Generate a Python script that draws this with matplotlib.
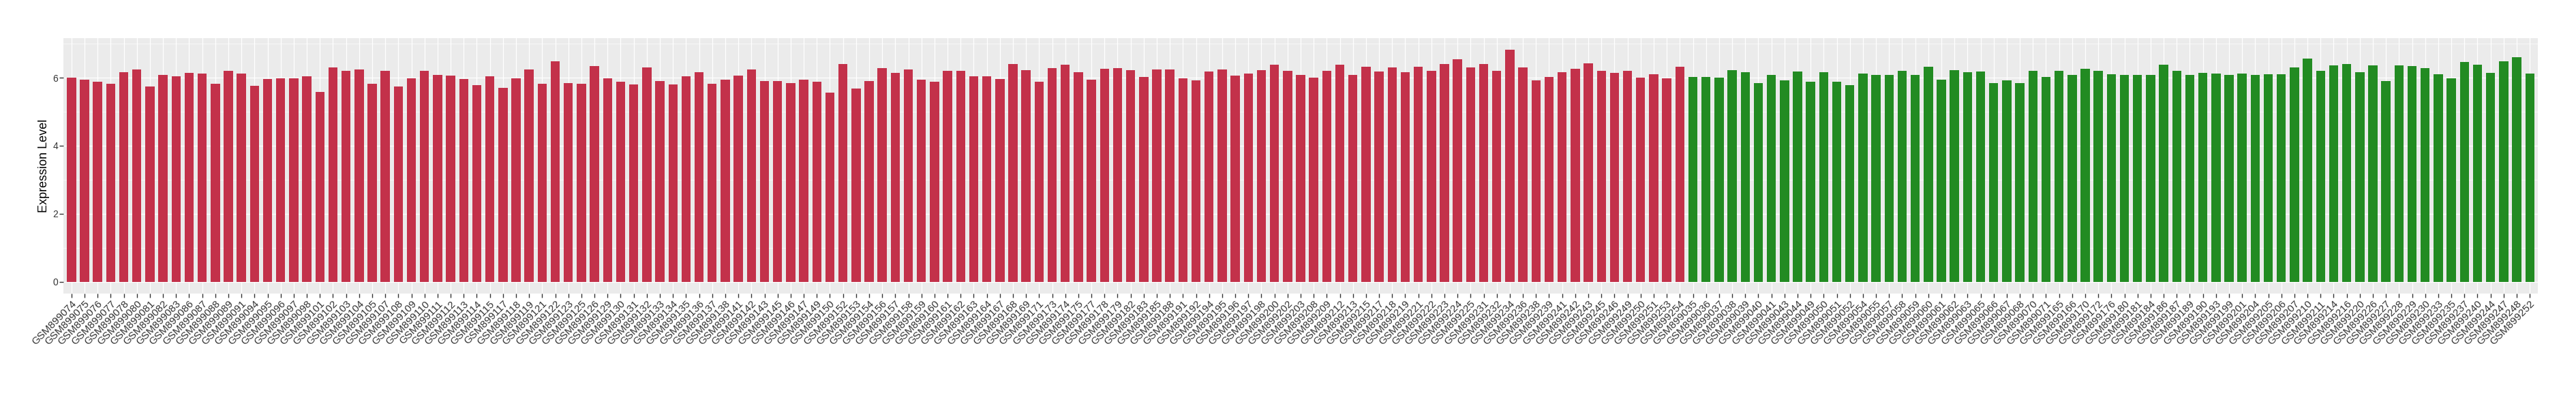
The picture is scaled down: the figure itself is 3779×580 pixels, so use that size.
import matplotlib
matplotlib.use("Agg")
import matplotlib.pyplot as plt
from matplotlib.ticker import MultipleLocator

red_ids = ["074","075","076","077","078","080","081","082","083","086","087","088","089","091","094","095",
           "096","097","098","101","102","103","104","105","107","108","109","110","111","112","113","114",
           "115","117","118","119","121","122","123","125","126","129","130","131","132","133","134",
           "135","136","137","138","141","142","143","145","146","147","149","150","152","153","154","156",
           "157","158","159","160","161","162","163","164","167","168","169","171","173","174","175",
           "177","178","179","182","183","185","188","191","192","194","195","196","197","198","200","202",
           "203","208","209","212","213","215","217","218","219","221","222","223","224","225","231","232",
           "234","236","238","239","241","242","243","245","246","249","250","251","253","254"]
red_values = [6.01,5.95,5.89,5.82,6.16,6.25,5.74,6.09,6.05,6.14,6.12,5.82,6.20,6.12,5.76,5.97,
              5.99,5.99,6.05,5.59,6.31,6.20,6.25,5.82,6.21,5.74,5.99,6.21,6.09,6.07,5.97,5.78,
              6.05,5.71,5.99,6.25,5.82,6.48,5.85,5.83,6.35,5.99,5.89,5.80,6.31,5.91,5.80,
              6.05,6.16,5.83,5.95,6.07,6.25,5.91,5.91,5.85,5.95,5.89,5.57,6.41,5.69,5.91,6.29,
              6.14,6.25,5.95,5.89,6.21,6.20,6.05,6.05,5.97,6.41,6.23,5.89,6.29,6.39,6.16,
              5.95,6.27,6.29,6.23,6.03,6.25,6.25,5.99,5.93,6.18,6.25,6.07,6.12,6.23,6.39,6.21,
              6.09,6.01,6.21,6.39,6.09,6.33,6.18,6.31,6.16,6.33,6.21,6.41,6.54,6.31,6.41,6.21,
              6.83,6.31,5.93,6.03,6.16,6.27,6.43,6.21,6.14,6.21,6.01,6.10,5.99,6.33]

green_ids = ["035","036","037","038","039","040","041","043","044","049","050","051","052","054","055","057","058",
             "059","060","061","062","063","065","066","067","068","070","071","165","166","170","172","176",
             "180","181","184","186","187","189","190","193","199","201","204","205","206","207","210",
             "211","214","216","220","226","227","228","229","230","233","235","237","240","244","247","248","252"]
green_values = [6.03,6.03,6.01,6.23,6.16,5.85,6.09,5.93,6.18,5.89,6.16,5.89,5.78,6.12,6.09,6.09,6.20,
                6.09,6.33,5.95,6.23,6.16,6.18,5.85,5.93,5.85,6.20,6.03,6.20,6.09,6.27,6.20,6.10,
                6.09,6.09,6.09,6.39,6.20,6.09,6.14,6.12,6.09,6.12,6.09,6.10,6.10,6.31,6.56,
                6.20,6.37,6.41,6.16,6.37,5.91,6.37,6.35,6.29,6.10,5.99,6.47,6.39,6.14,6.48,6.61,6.12]

labels = ["GSM899" + s for s in red_ids] + ["GSM899" + s for s in green_ids]
values = red_values + green_values
colors = ["#C3314A"] * len(red_values) + ["#228B22"] * len(green_values)

plt.rcParams['font.family'] = ['Liberation Sans', 'DejaVu Sans']

fig = plt.figure(figsize=(37.8, 5.8), dpi=100)
ax = fig.add_axes([0.02468, 0.2574, 0.98485 - 0.02468, 0.904 - 0.2574])
ax.set_facecolor("#EBEBEB")
x = list(range(len(values)))
ax.bar(x, values, width=0.7, color=colors, zorder=3)

n = len(values)
ax.set_xlim(-0.6, n - 1 + 0.6)
vmax = max(values)
ax.set_ylim(-0.05 * vmax, 1.05 * vmax)

ax.yaxis.set_major_locator(MultipleLocator(2))
ax.yaxis.set_minor_locator(MultipleLocator(1))
ax.set_xticks(x)
ax.set_xticklabels(labels, rotation=45, ha="right", va="top", rotation_mode="anchor",
                   fontsize=11, color="#333333")
ax.tick_params(axis="x", length=4, width=1, color="#333333", pad=2)
ax.tick_params(axis="y", which="major", length=4, width=1, color="#333333", pad=2,
               labelsize=10, labelcolor="#333333")
ax.tick_params(axis="y", which="minor", length=0)

ax.grid(True, which="major", axis="both", color="white", linewidth=0.9, zorder=0)
ax.grid(True, which="minor", axis="y", color="white", linewidth=0.45, zorder=0)
ax.set_axisbelow(True)
for s in ax.spines.values():
    s.set_visible(False)

ax.set_ylabel("Expression Level", fontsize=13, color="black", labelpad=3)

fig.savefig("out.png", dpi=100, facecolor="white")
